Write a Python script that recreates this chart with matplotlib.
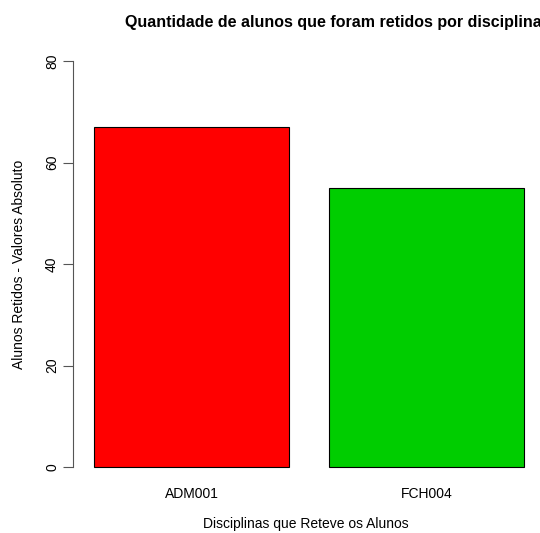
import matplotlib.pyplot as plt

# Data
disciplinas = ['ADM001', 'FCH004']
retidos = [67, 55]
cores = ['#FF0000', '#00CD00']
yticks = [0, 20, 40, 60, 80]

plt.rcParams['font.family'] = ['Liberation Sans', 'DejaVu Sans']

W, H = 540, 533
fig = plt.figure(figsize=(W / 100, H / 100), dpi=100)

# axes placed in pixel terms (left axis at x=73, 0 at y=467, 80 at y=61)
px_unit = 406 / 80
bottom_px = 483
top_px = 45
ax = fig.add_axes([73 / W, 1 - bottom_px / H, (540 - 73) / W, (bottom_px - top_px) / H])
ax.set_ylim(-(bottom_px - 467) / px_unit, 80 + (61 - top_px) / px_unit)

x_unit = 196
ax.set_xlim(0.2 - (94 - 73) / x_unit, 2.4 + (540 - 524) / x_unit)

pos = [0.7, 1.9]
ax.bar(pos, retidos, width=1.0, color=cores, edgecolor='black', linewidth=0.8)

for s in ['top', 'right', 'bottom']:
    ax.spines[s].set_visible(False)
ax.spines['left'].set_bounds(0, 80)
ax.spines['left'].set_color('#555555')
ax.set_yticks(yticks)
ax.set_yticklabels([str(v) for v in yticks], rotation=90, va='center', fontsize=10)
ax.tick_params(axis='y', length=7, color='#555555', pad=3)
ax.set_xticks(pos)
ax.set_xticklabels(disciplinas, fontsize=10)
ax.tick_params(axis='x', length=0, pad=3)

fig.text(306 / W, 1 - 524 / H, 'Disciplinas que Reteve os Alunos',
         ha='center', va='center', fontsize=10)
fig.text(19 / W, 1 - 264 / H, 'Alunos Retidos - Valores Absoluto',
         ha='center', va='center', rotation=90, fontsize=10)

fig.text(333 / W, 1 - 22 / H, 'Quantidade de alunos que foram retidos por disciplina',
         ha='center', va='center', fontsize=11.5, fontweight='bold')

fig.savefig('out.png', dpi=100)
